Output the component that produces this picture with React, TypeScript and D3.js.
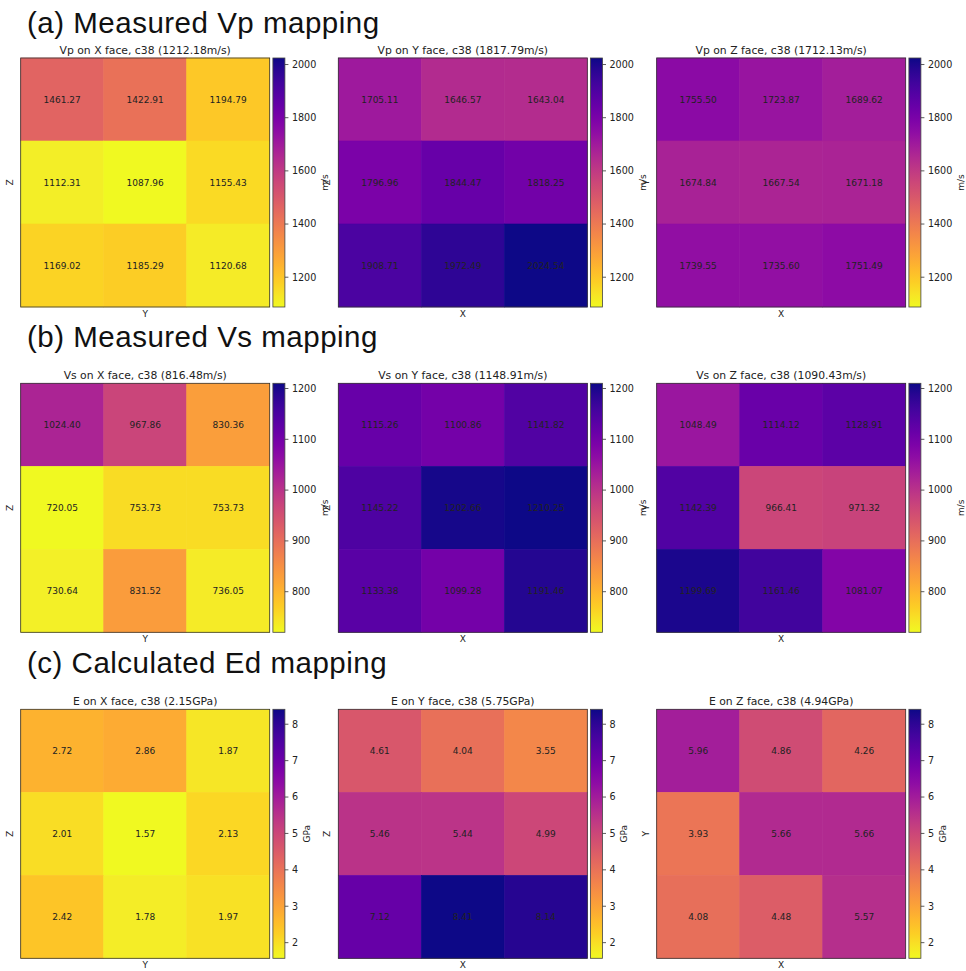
import React from "react";
import * as d3 from "d3";

// ---------- data ----------
const sectionTitles = ["(a) Measured Vp mapping", "(b) Measured Vs mapping", "(c) Calculated Ed mapping"];
const faceNames = ["X", "Y", "Z"];
const xLabels = ["Y", "X", "X"];
const yLabels = ["Z", "Z", "Y"];

const vpX = [[1461.27, 1422.91, 1194.79], [1112.31, 1087.96, 1155.43], [1169.02, 1185.29, 1120.68]];
const vpY = [[1705.11, 1646.57, 1643.04], [1796.96, 1844.47, 1818.25], [1908.71, 1972.49, 2024.54]];
const vpZ = [[1755.50, 1723.87, 1689.62], [1674.84, 1667.54, 1671.18], [1739.55, 1735.60, 1751.49]];
const vpMeans = ["1212.18", "1817.79", "1712.13"];
const vpTicks = [1200, 1400, 1600, 1800, 2000];

const vsX = [[1024.40, 967.86, 830.36], [720.05, 753.73, 753.73], [730.64, 831.52, 736.05]];
const vsY = [[1115.26, 1100.86, 1141.82], [1145.22, 1202.66, 1210.25], [1133.38, 1099.28, 1191.46]];
const vsZ = [[1048.49, 1114.12, 1128.91], [1142.39, 966.41, 971.32], [1199.69, 1161.46, 1081.07]];
const vsMeans = ["816.48", "1148.91", "1090.43"];
const vsTicks = [800, 900, 1000, 1100, 1200];

const eX = [[2.72, 2.86, 1.87], [2.01, 1.57, 2.13], [2.42, 1.78, 1.97]];
const eY = [[4.61, 4.04, 3.55], [5.46, 5.44, 4.99], [7.12, 8.41, 8.14]];
const eZ = [[5.96, 4.86, 4.26], [3.93, 5.66, 5.66], [4.08, 4.48, 5.57]];
const eMeans = ["2.15", "5.75", "4.94"];
const eTicks = [2, 3, 4, 5, 6, 7, 8];

const rows = [
  { prefix: "Vp", unit: "m/s", grids: [vpX, vpY, vpZ], means: vpMeans, ticks: vpTicks, fmt: (v: number) => v.toFixed(2) },
  { prefix: "Vs", unit: "m/s", grids: [vsX, vsY, vsZ], means: vsMeans, ticks: vsTicks, fmt: (v: number) => v.toFixed(2) },
  { prefix: "E", unit: "GPa", grids: [eX, eY, eZ], means: eMeans, ticks: eTicks, fmt: (v: number) => v.toFixed(2) },
];

// ---------- layout ----------
const W = 966, H = 971;
const panelLefts = [20.7, 338.3, 656.7];
const size = 249;
const rowTops = [58, 383.3, 709.3];
const sectionBaselines = [33, 347, 673];
const cbGap = 3.2, cbW = 12;
const FONT = "'DejaVu Sans', sans-serif";

function Panel({ row, ri, pi }: any) {
  const left = panelLefts[pi];
  const top = rowTops[ri];
  const all = row.grids.flat(2) as number[];
  const vmin = d3.min(all)!, vmax = d3.max(all)!;
  const color = d3.scaleSequential((t: number) => d3.interpolatePlasma(1 - t)).domain([vmin, vmax]);
  const x = d3.scaleBand<number>().domain([0, 1, 2]).range([left, left + size]);
  const y = d3.scaleBand<number>().domain([0, 1, 2]).range([top, top + size]);
  const cbX = left + size + cbGap;
  const cbY = d3.scaleLinear().domain([vmin, vmax]).range([top + size, top]);
  const gid = `g${ri}${pi}`;
  const stops = d3.range(0, 1.0001, 0.05);
  const grid = row.grids[pi] as number[][];
  const maxChars = d3.max(row.ticks as number[], (t) => String(t).length)!;
  const tickLabelX = cbX + cbW + 7;
  const cbLabelX = tickLabelX + maxChars * 6.1 + 8.5;
  return (
    <g>
      <defs>
        <linearGradient id={gid} x1="0" y1="1" x2="0" y2="0">
          {stops.map((s) => (
            <stop key={s} offset={s} stopColor={color(vmin + s * (vmax - vmin))} />
          ))}
        </linearGradient>
      </defs>
      <text x={left + size / 2} y={top - 4.5} textAnchor="middle" fontFamily={FONT} fontSize={10.8} fill="#222">
        {`${row.prefix} on ${faceNames[pi]} face, c38 (${row.means[pi]}${row.unit})`}
      </text>
      {grid.map((r, i) =>
        r.map((v, j) => (
          <rect key={`r${i}-${j}`} x={x(j)} y={y(i)} width={x.bandwidth()} height={y.bandwidth()}
            fill={color(v)} stroke={color(v)} strokeWidth={0.6} />
        ))
      )}
      {grid.map((r, i) =>
        r.map((v, j) => (
          <text key={`t${i}-${j}`} x={x(j)! + x.bandwidth() / 2} y={y(i)! + y.bandwidth() / 2} dy="0.35em" textAnchor="middle"
            fontFamily={FONT} fontSize={9} fill="#222">{row.fmt(v)}</text>
        ))
      )}
      <rect x={left} y={top} width={size} height={size} fill="none" stroke="#333" strokeWidth={0.8} />
      <text x={left + size / 2} y={top + size + 10} textAnchor="middle" fontFamily={FONT} fontSize={9} fill="#222">{xLabels[pi]}</text>
      <text transform={`translate(${left - 8},${top + size / 2}) rotate(-90)`} textAnchor="middle" fontFamily={FONT} fontSize={9} fill="#222">{yLabels[pi]}</text>
      <rect x={cbX} y={top} width={cbW} height={size} fill={`url(#${gid})`} stroke="#444" strokeWidth={0.8} />
      {(row.ticks as number[]).map((t) => (
        <g key={t}>
          <line x1={cbX + cbW} x2={cbX + cbW + 3.5} y1={cbY(t)} y2={cbY(t)} stroke="#333" strokeWidth={0.8} />
          <text x={tickLabelX} y={cbY(t)} dy="0.35em" fontFamily={FONT} fontSize={9.6} fill="#222">{t}</text>
        </g>
      ))}
      <text transform={`translate(${cbLabelX},${top + size / 2}) rotate(-90)`} textAnchor="middle" dy="0.35em" fontFamily={FONT} fontSize={9} fill="#222">{row.unit}</text>
    </g>
  );
}

export default function App() {
  return (
    <svg width={W} height={H} style={{ position: "absolute", left: 0, top: 0, background: "#fff" }}>
      <rect width={W} height={H} fill="#fff" />
      {rows.map((row, ri) => (
        <g key={ri}>
          <text x={27} y={sectionBaselines[ri]} fontFamily="'Liberation Sans', Arial, sans-serif" fontSize={29.5} letterSpacing={0.5} fill="#111">
            {sectionTitles[ri]}
          </text>
          {[0, 1, 2].map((pi) => (
            <Panel key={pi} row={row} ri={ri} pi={pi} />
          ))}
        </g>
      ))}
    </svg>
  );
}
